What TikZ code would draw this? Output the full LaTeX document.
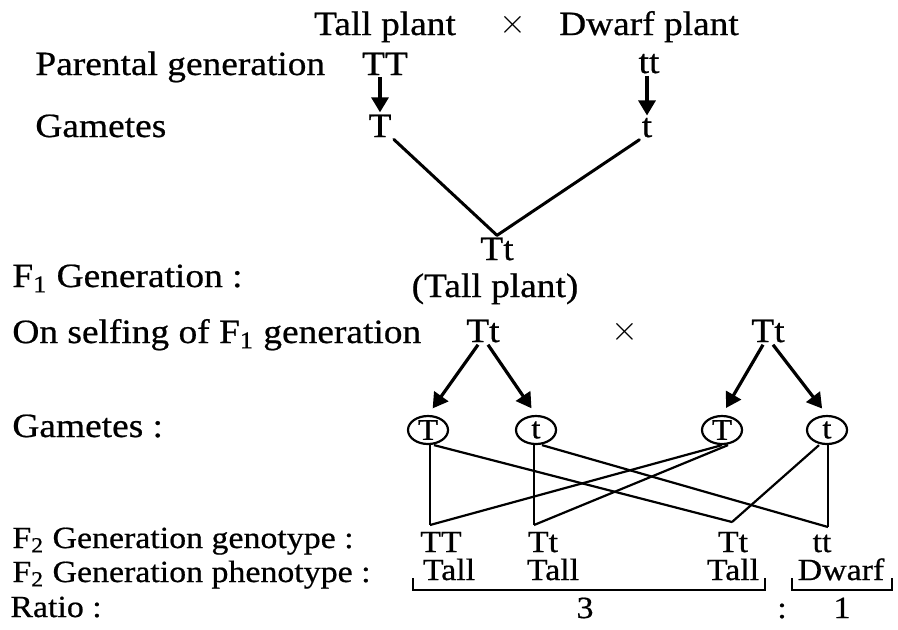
\documentclass[tikz,border=0pt]{standalone}
\usepackage{fontspec}
\setmainfont[FakeStretch=1.1,FakeBold=0.6]{Liberation Serif}
\usetikzlibrary{positioning,arrows.meta,shapes.geometric}

\begin{document}
\begin{tikzpicture}[x=0.5pt,y=-0.5pt,
  biglbl/.style={anchor=base west, inner sep=0pt, font={\fontsize{17}{19}\selectfont}},
  lowlbl/.style={anchor=base west, inner sep=0pt, font={\fontsize{15.4}{17}\selectfont}},
  gene/.style={anchor=base, inner sep=1pt, font={\fontsize{17}{19}\selectfont}},
  lowgene/.style={anchor=base, inner sep=1pt, font={\fontsize{15.4}{17}\selectfont}},
  gam/.style={ellipse, draw=black, line width=1.1pt, minimum width=20pt, minimum height=14pt, inner sep=0pt, font={\fontsize{15}{16}\selectfont}},
  arr/.style={line width=1.6pt, -{Triangle[length=7.5pt,width=8.5pt]}},
  vline/.style={line width=1.5pt, line cap=round},
  link/.style={line width=1.1pt}
]
\useasboundingbox (0,0) rectangle (898,629);
% parents
\node[gene] (ptall) at (385,35) {Tall plant};
\node[gene] (pcross) at (513,33) {$\times$};
\node[gene] (pdwarf) at (649,35) {Dwarf plant};
\node[biglbl] (lpar) at (35,75) {Parental generation};
\node[gene] (pTT) at (385,75) {TT};
\node[gene] (ptt) at (649,73) {tt};
\node[biglbl] (lgam) at (35,137) {Gametes};
\node[gene] (gT) at (380,137) {T};
\node[gene] (gt) at (647,137) {t};
\draw[arr] (pTT.south -| gT) -- (gT.north);
\draw[arr] (ptt.south -| gt) -- (gt.north);
% F1
\node[gene] (f1) at (497,260) {Tt};
\node[gene] (f1ph) at (495,297) {(Tall plant)};
\node[biglbl] (lf1) at (12,287) {F\textsubscript{1} Generation :};
\draw[vline] (gT.south east) -- (f1.north);
\draw[vline] (gt.south west) -- (f1.north);
% selfing
\node[biglbl] (lself) at (12,343) {On selfing of F\textsubscript{1} generation};
\node[gene] (s0) at (483,342) {Tt};
\node[gene] (scross) at (625,340) {$\times$};
\node[gene] (s1) at (768,342) {Tt};
\node[biglbl] (lgam2) at (12,437) {Gametes :};
\node[gam] (c0) at (428,430) {T};
\node[gam] (c1) at (536,430) {t};
\node[gam] (c2) at (722,430) {T};
\node[gam] (c3) at (827,430) {t};
\draw[arr, shorten >=4pt] (s0.-110) -- (c0.north);
\draw[arr, shorten >=4pt] (s0.-70) -- (c1.north);
\draw[arr, shorten >=4pt] (s1.-110) -- (c2.north);
\draw[arr, shorten >=4pt] (s1.-70) -- (c3.north);
% F2 crossing
\coordinate (v0) at (430,525);
\coordinate (v1) at (534,525);
\coordinate (v2) at (732,522);
\coordinate (v3) at (828,527);
\draw[link] (c0.south -| v0) -- (v0);
\draw[link] ([xshift=3pt]c0.south) -- (v2);
\draw[link] (c1.south -| v1) -- (v1);
\draw[link] ([xshift=3pt]c1.south) -- (v3);
\draw[link] (c2.south) -- (v0);
\draw[link] ([xshift=3pt]c2.south) -- (v1);
\draw[link] ([xshift=-4pt]c3.south) -- (v2);
\draw[link] (c3.south -| v3) -- (v3);
% F2 rows
\node[lowlbl] (lgeno) at (12,548) {F\textsubscript{2} Generation genotype :};
\node[lowlbl] (lpheno) at (12,582) {F\textsubscript{2} Generation phenotype :};
\node[lowlbl] (lratio) at (10,617) {Ratio :};
\node[lowgene] (g0) at (441,552) {TT};
\node[lowgene] (g1) at (543,552) {Tt};
\node[lowgene] (g2) at (733,552) {Tt};
\node[lowgene] (g3) at (822,552) {tt};
\node[lowgene] (h0) at (449,580) {Tall};
\node[lowgene] (h1) at (553,580) {Tall};
\node[lowgene] (h2) at (733,580) {Tall};
\node[lowgene] (h3) at (841,580) {Dwarf};
\draw[link] (413,578) -- (413,590) -- (765,590) -- (765,578);
\draw[link] (792,578) -- (792,590) -- (892,590) -- (892,578);
\node[lowgene] (r0) at (585,618) {3};
\node[lowgene] (r1) at (782,618) {:};
\node[lowgene] (r2) at (842,618) {1};
\end{tikzpicture}
\end{document}
